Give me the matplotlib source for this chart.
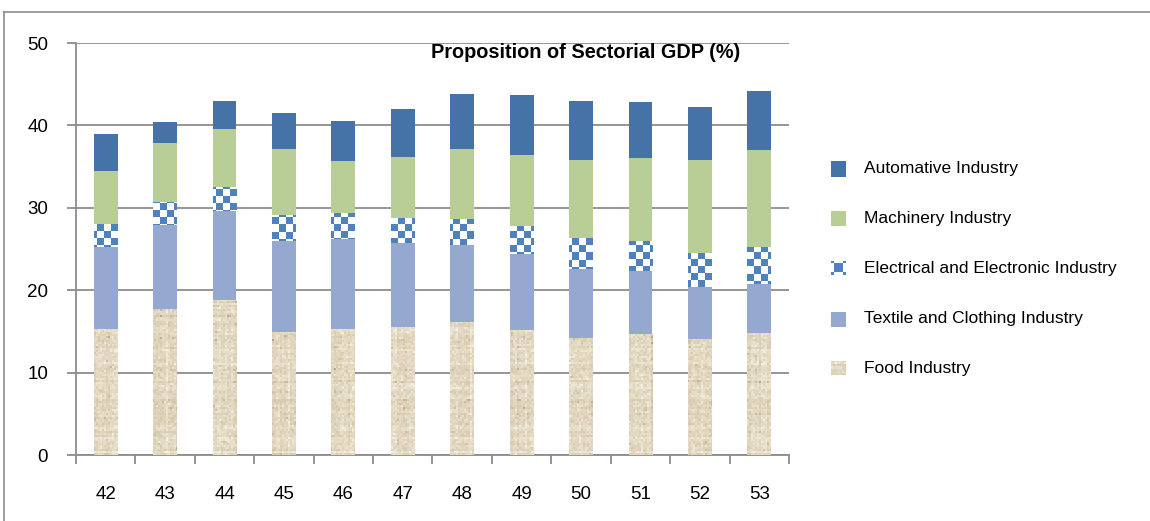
import numpy as np
import matplotlib
matplotlib.use("Agg")
import matplotlib.pyplot as plt
from matplotlib.lines import Line2D
from matplotlib.colors import LinearSegmentedColormap, ListedColormap

plt.rcParams['font.family'] = ['Liberation Sans', 'DejaVu Sans']

# ---- data -----------------------------------------------------------------
years = ['42', '43', '44', '45', '46', '47', '48', '49', '50', '51', '52', '53']
food = [15.3, 17.7, 18.8, 14.9, 15.3, 15.5, 16.1, 15.2, 14.2, 14.7, 14.1, 14.8]
textile = [9.9, 10.2, 10.8, 11.1, 10.9, 10.2, 9.4, 9.2, 8.4, 7.6, 6.3, 6.0]
electrical = [2.8, 2.8, 2.9, 3.1, 3.2, 3.1, 3.1, 3.4, 3.7, 3.7, 4.1, 4.4]
machinery = [6.5, 7.2, 7.1, 8.0, 6.3, 7.4, 8.5, 8.6, 9.5, 10.0, 11.3, 11.8]
automotive = [4.5, 2.5, 3.4, 4.4, 4.8, 5.8, 6.7, 7.3, 7.2, 6.8, 6.4, 7.2]

series_names = ['Food Industry', 'Textile and Clothing Industry',
                'Electrical and Electronic Industry', 'Machinery Industry',
                'Automative Industry']
title = 'Proposition of Sectorial GDP (%)'

# ---- styling ----------------------------------------------------------------
W, H = 1150, 521
C_AUTO = '#4572A7'
C_MACH = '#B9CD96'
C_TEXT = '#95A9D0'
C_ELEC = '#4F81BD'
C_FOOD = '#E5DBC4'
GRAY = '#8C8C8C'

fig = plt.figure(figsize=(W / 100, H / 100), dpi=100)
ax_l, ax_b, ax_w, ax_h = 76, 66, 713, 412
ax = fig.add_axes([ax_l / W, ax_b / H, ax_w / W, ax_h / H])

x = np.arange(len(years))
xlim = (-0.5, len(years) - 0.5)
ylim = (0, 50)

# textures
def checker(rows, cols):
    r = np.arange(rows)[:, None]
    c = np.arange(cols)[None, :]
    return ((r + c) % 2).astype(float)

def burlap(rows, cols, seed=3):
    rng = np.random.default_rng(seed)
    t = 0.62 + 0.12 * rng.standard_normal((rows, cols))
    t += 0.08 * rng.standard_normal((rows, 1))
    t += 0.06 * rng.standard_normal((1, cols))
    return np.clip(t, 0, 1)

check_cmap = ListedColormap(['white', C_ELEC])
food_cmap = LinearSegmentedColormap.from_list(
    'food', ['#A99B80', '#D4C8AC', '#E5DBC4', '#F4EFE3'])

cell = 7
check_img = checker(int(ax_h / cell) + 1, int(ax_w / cell) + 1)
food_img = burlap(ax_h // 2, ax_w // 2)

values = [food, textile, electrical, machinery, automotive]
colors = [C_FOOD, C_TEXT, C_ELEC, C_MACH, C_AUTO]
bottom = np.zeros(len(years))
width = 0.40
for name, vals, col in zip(series_names, values, colors):
    bars = ax.bar(x, vals, width, bottom=bottom, color=col, linewidth=0,
                  label=name, zorder=2)
    if name.startswith('Electrical') or name.startswith('Food'):
        img = check_img if name.startswith('Electrical') else food_img
        cmap = check_cmap if name.startswith('Electrical') else food_cmap
        for rect in bars:
            im = ax.imshow(img, cmap=cmap, vmin=0, vmax=1, origin='upper',
                           extent=(xlim[0], xlim[1], ylim[0], ylim[1]),
                           aspect='auto', interpolation='nearest', zorder=3)
            im.set_clip_path(rect)
    bottom += np.array(vals)

ax.set_xlim(*xlim)
ax.set_ylim(*ylim)

# axes cosmetics
for s in ('top', 'right'):
    ax.spines[s].set_visible(False)
for s in ('left', 'bottom'):
    ax.spines[s].set_color(GRAY)
    ax.spines[s].set_linewidth(1.3)
ax.set_axisbelow(True)
ax.yaxis.grid(True, color=GRAY, linewidth=1.3)
ax.set_yticks(np.arange(0, 51, 10))
ax.tick_params(axis='y', length=6.5, width=1.3, color=GRAY, pad=13.5,
               labelsize=13.5)
ax.set_xticks(np.arange(-0.5, len(years), 1))
ax.set_xticklabels([])
ax.tick_params(axis='x', which='major', length=6.5, width=1.3, color=GRAY)
ax.set_xticks(x, minor=True)
ax.set_xticklabels(years, minor=True)
ax.tick_params(axis='x', which='minor', length=0, pad=22.5, labelsize=13.5)

fig.text(431 / W, 1 - 52 / H, title, fontsize=14.3, fontweight='bold',
         ha='left', va='center')

# legend, listed from the top of the stack down
leg_rows = [169, 218, 268, 319, 368]
leg_items = list(zip(series_names, colors))[::-1]
for (name, col), yc in zip(leg_items, leg_rows):
    sz = 15
    lax = fig.add_axes([831 / W, (H - yc - sz / 2) / H, sz / W, sz / H])
    lax.set_axis_off()
    if name.startswith('Electrical'):
        pat = np.array([[1, 0, 0, 0, 1],
                        [0, 1, 1, 1, 0],
                        [0, 1, 1, 1, 0],
                        [0, 1, 1, 1, 0],
                        [1, 0, 0, 0, 1]], dtype=float)
        lax.imshow(pat, cmap=check_cmap, vmin=0, vmax=1, aspect='auto',
                   interpolation='nearest')
    elif name.startswith('Food'):
        lax.imshow(burlap(7, 7, seed=5), cmap=food_cmap, vmin=0, vmax=1,
                   aspect='auto', interpolation='nearest')
    else:
        lax.add_patch(plt.Rectangle((0, 0), 1, 1, color=col))
        lax.set_xlim(0, 1)
        lax.set_ylim(0, 1)
    fig.text(864 / W, 1 - yc / H, name, fontsize=12.5, ha='left', va='center')

# outer frame edges
fig.add_artist(Line2D([4 / W, 1], [1 - 12 / H] * 2, transform=fig.transFigure,
                      color=GRAY, linewidth=1.2))
fig.add_artist(Line2D([4 / W] * 2, [0, 1 - 12 / H], transform=fig.transFigure,
                      color=GRAY, linewidth=1.2))

fig.savefig('out.png', dpi=100, facecolor='white')
